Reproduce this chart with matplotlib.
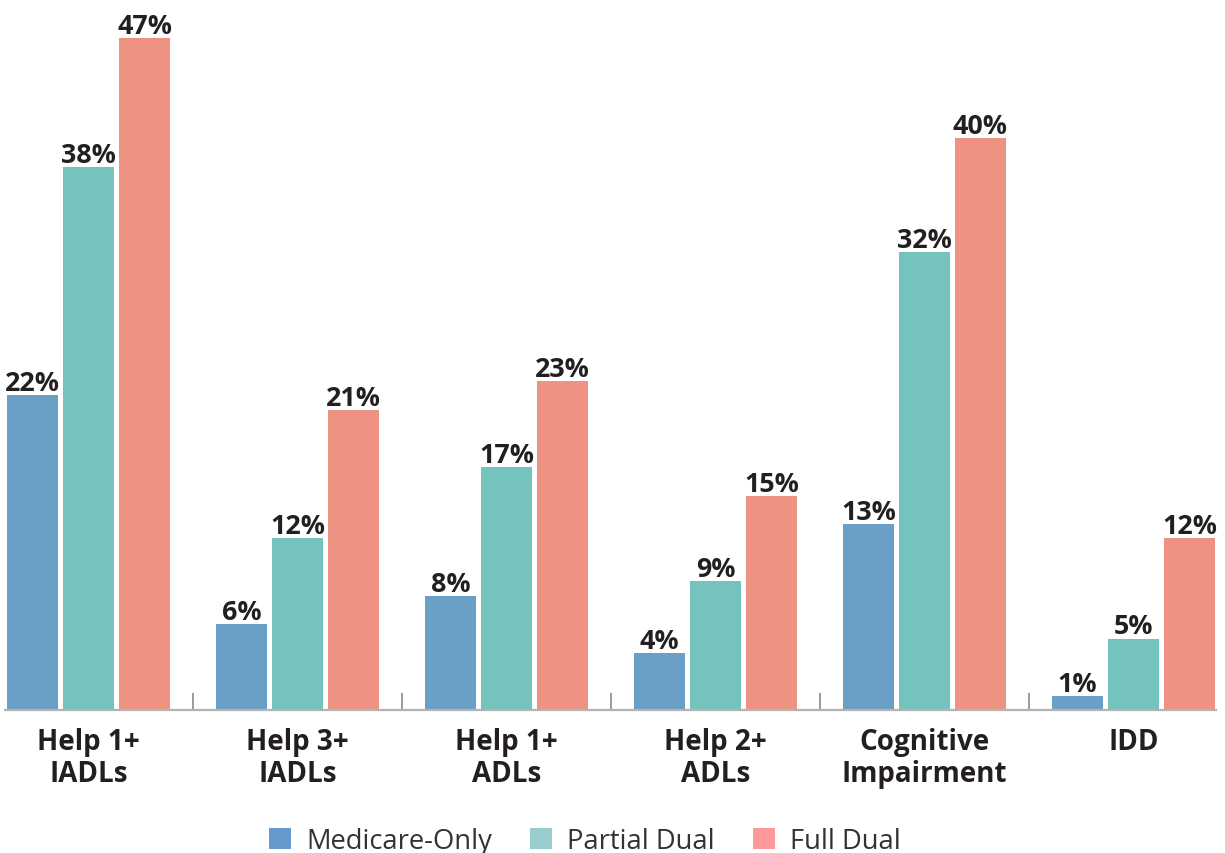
import matplotlib
matplotlib.use("Agg")
import matplotlib.pyplot as plt
from matplotlib.patches import Patch
import numpy as np

categories = ["Help 1+\nIADLs", "Help 3+\nIADLs", "Help 1+\nADLs", "Help 2+\nADLs",
              "Cognitive\nImpairment", "IDD"]
series_names = ["Medicare-Only", "Partial Dual", "Full Dual"]
medicare_only = [22, 6, 8, 4, 13, 1]
partial_dual = [38, 12, 17, 9, 32, 5]
full_dual = [47, 21, 23, 15, 40, 12]

bar_colors = ["#6a9fc6", "#74c3bd", "#ee9382"]
legend_colors = ["#6699cc", "#99cccc", "#ff9999"]

plt.rcParams['font.family'] = ['Open Sans', 'DejaVu Sans']

W, H = 1225, 854
fig = plt.figure(figsize=(W / 100, H / 100), dpi=100)
px_per_pct = 14.3
ymax = 49.5
ax_bottom = 1 - 711 / H
ax_h = ymax * px_per_pct / H
ax = fig.add_axes([5 / W, ax_bottom, 1211 / W, ax_h])

x = np.arange(len(categories))
offsets = [-0.268, 0.0, 0.268]
width = 0.244
for vals, off, col in zip([medicare_only, partial_dual, full_dual], offsets, bar_colors):
    bars = ax.bar(x + off, vals, width=width, color=col, zorder=2)
    for b, v in zip(bars, vals):
        ax.annotate(f"{v}%", (b.get_x() + b.get_width() / 2, v),
                    xytext=(0, 3.6), textcoords="offset points",
                    ha="center", va="baseline", fontsize=19.4, fontweight="bold",
                    color="#231f20")

ax.set_xlim(-0.3995, 5.395)
ax.set_ylim(0, ymax)

# group separators
for i in range(len(categories) - 1):
    ax.plot([i + 0.5, i + 0.5], [0, 1.2], color="#8a8a8a", lw=1.2, zorder=1,
            solid_capstyle="butt")

for s in ["top", "right", "left"]:
    ax.spines[s].set_visible(False)
ax.spines["bottom"].set_color("#b3b3b3")
ax.spines["bottom"].set_linewidth(1.6)
ax.set_yticks([])
ax.set_xticks(x)
ax.set_xticklabels(categories, fontsize=20, fontweight="bold", color="#231f20",
                   linespacing=1.12)
ax.tick_params(axis="x", length=0, pad=12.5)

handles = [Patch(facecolor=c, edgecolor="none", label=n)
           for c, n in zip(legend_colors, series_names)]
fig.legend(handles=handles, loc="center", bbox_to_anchor=(585 / W, 1 - 842 / H),
           ncol=3, frameon=False, fontsize=19.7, handlelength=0.8, handleheight=0.8,
           handletextpad=0.55, columnspacing=1.4, labelcolor="#333333",
           borderpad=0, borderaxespad=0)

fig.savefig("out.png", dpi=100)
